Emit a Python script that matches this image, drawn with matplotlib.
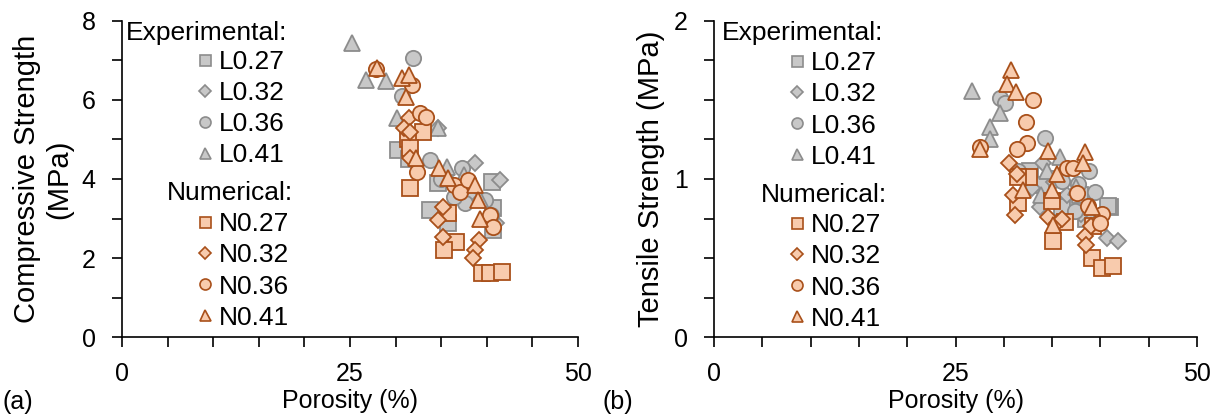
import matplotlib
matplotlib.use('Agg')
import matplotlib.pyplot as plt
from matplotlib.lines import Line2D
from matplotlib.ticker import MultipleLocator

plt.rcParams['font.family'] = ['Liberation Sans', 'DejaVu Sans']

# ---- compressive strength (MPa) vs porosity (%) ----
comp_L027_x = [30.3, 33.8, 34.7, 35.8, 37.5, 40.6, 40.7, 40.7, 31.5]
comp_L027_y = [4.73, 3.22, 3.90, 2.88, 3.60, 3.92, 3.26, 2.70, 4.50]
comp_L032_x = [34.7, 35.5, 38.7, 41.5, 38.0, 41.0, 36.5]
comp_L032_y = [5.30, 4.10, 4.40, 3.97, 3.60, 2.90, 3.80]
comp_L036_x = [31.9, 30.7, 33.8, 37.3, 37.6, 39.8, 36.4, 40.5, 35.0]
comp_L036_y = [7.05, 6.10, 4.47, 4.28, 3.39, 3.47, 3.54, 3.10, 4.00]
comp_L041_x = [25.2, 26.7, 29.0, 30.2, 34.6, 35.6, 37.5, 39.2]
comp_L041_y = [7.43, 6.50, 6.47, 5.55, 5.30, 4.30, 4.10, 3.50]

comp_N027_x = [33.0, 31.4, 31.6, 31.6, 35.8, 36.6, 35.3, 39.5, 40.4, 41.7]
comp_N027_y = [5.18, 5.00, 4.78, 3.76, 3.13, 2.40, 2.20, 1.62, 1.62, 1.65]
comp_N032_x = [31.5, 30.9, 31.6, 31.6, 35.2, 34.7, 35.2, 39.1, 38.7, 38.5]
comp_N032_y = [5.53, 5.30, 5.18, 4.53, 3.30, 2.96, 2.53, 2.45, 2.20, 2.00]
comp_N036_x = [27.8, 31.8, 32.7, 33.3, 32.4, 36.4, 37.1, 37.9, 40.4, 40.7]
comp_N036_y = [6.77, 6.37, 5.67, 5.57, 4.17, 3.85, 3.67, 3.97, 3.09, 2.78]
comp_N041_x = [28.0, 30.7, 31.5, 31.1, 32.2, 34.8, 35.8, 38.7, 39.0, 39.3]
comp_N041_y = [6.80, 6.55, 6.62, 6.07, 4.53, 4.28, 4.02, 3.85, 3.47, 3.00]

# ---- tensile strength (MPa) vs porosity (%) ----
tens_L027_x = [32.7, 34.1, 36.0, 41.0, 37.9, 35.5, 38.5, 40.8]
tens_L027_y = [1.05, 0.96, 0.82, 0.82, 0.90, 1.00, 0.75, 0.83]
tens_L032_x = [33.7, 32.9, 34.1, 40.7, 41.8, 36.5, 38.0, 35.2]
tens_L032_y = [0.82, 0.94, 1.10, 0.63, 0.61, 0.90, 0.78, 0.98]
tens_L036_x = [29.6, 30.1, 34.3, 36.0, 37.7, 39.4, 37.4, 38.8, 31.5]
tens_L036_y = [1.51, 1.48, 1.26, 0.99, 0.97, 0.92, 0.80, 1.05, 1.05]
tens_L041_x = [26.7, 29.6, 28.6, 28.6, 35.8, 34.5, 37.5, 33.8]
tens_L041_y = [1.555, 1.42, 1.33, 1.25, 1.14, 1.05, 0.95, 0.90]

tens_N027_x = [32.6, 31.5, 31.5, 35.0, 36.3, 35.1, 39.2, 39.1, 40.2, 41.3]
tens_N027_y = [1.01, 1.01, 0.85, 0.86, 0.73, 0.61, 0.70, 0.50, 0.44, 0.45]
tens_N032_x = [30.5, 31.4, 31.0, 31.2, 34.6, 35.5, 38.4, 38.5, 36.0, 39.0]
tens_N032_y = [1.10, 1.03, 0.90, 0.77, 0.76, 0.72, 0.64, 0.58, 0.75, 0.70]
tens_N036_x = [33.0, 32.3, 32.4, 31.4, 27.5, 36.5, 37.2, 37.6, 38.7, 40.2, 40.0]
tens_N036_y = [1.50, 1.36, 1.23, 1.19, 1.20, 1.07, 1.07, 0.91, 0.83, 0.78, 0.72]
tens_N041_x = [30.7, 30.3, 31.3, 27.5, 34.6, 38.4, 38.2, 35.5, 32.0, 35.0, 35.1, 39.1]
tens_N041_y = [1.69, 1.60, 1.55, 1.19, 1.18, 1.17, 1.10, 1.03, 0.93, 0.93, 0.71, 0.82]

exp_labels = ['L0.27', 'L0.32', 'L0.36', 'L0.41']
num_labels = ['N0.27', 'N0.32', 'N0.36', 'N0.41']
markers = ['s', 'D', 'o', '^']
msizes = [11, 8, 11, 11]

gray_face, gray_edge = '#c8c8c8', '#8c8c8c'
orng_face, orng_edge = '#f8cbad', '#a9501a'
FS = 18
LFS = 19

comp_exp = [(comp_L027_x, comp_L027_y), (comp_L032_x, comp_L032_y),
            (comp_L036_x, comp_L036_y), (comp_L041_x, comp_L041_y)]
comp_num = [(comp_N027_x, comp_N027_y), (comp_N032_x, comp_N032_y),
            (comp_N036_x, comp_N036_y), (comp_N041_x, comp_N041_y)]
tens_exp = [(tens_L027_x, tens_L027_y), (tens_L032_x, tens_L032_y),
            (tens_L036_x, tens_L036_y), (tens_L041_x, tens_L041_y)]
tens_num = [(tens_N027_x, tens_N027_y), (tens_N032_x, tens_N032_y),
            (tens_N036_x, tens_N036_y), (tens_N041_x, tens_N041_y)]

W, H = 1218, 417
fig = plt.figure(figsize=(W / 100, H / 100), dpi=100)


def fx(px):
    return px / W


def fy(py):
    return 1 - py / H


def draw_panel(ax, exp, num, ymax, ymajor, yminor, ylabel, lay):
    for (x, y), m, ms in zip(exp, markers, msizes):
        ax.plot(x, y, ls='none', marker=m, ms=ms, mfc=gray_face, mec=gray_edge, mew=1.3)
    for (x, y), m, ms in zip(num, markers, msizes):
        ax.plot(x, y, ls='none', marker=m, ms=ms, mfc=orng_face, mec=orng_edge, mew=1.3)

    ax.set_xlim(0, 50)
    ax.set_ylim(0, ymax)
    ax.xaxis.set_major_locator(MultipleLocator(25))
    ax.xaxis.set_minor_locator(MultipleLocator(5))
    ax.yaxis.set_major_locator(MultipleLocator(ymajor))
    ax.yaxis.set_minor_locator(MultipleLocator(yminor))
    ax.tick_params(which='both', direction='out', length=7, width=1.2, color='black')
    ax.tick_params(axis='x', which='major', labelsize=FS, pad=11)
    ax.tick_params(axis='y', which='major', labelsize=FS, pad=12)
    for s in ['top', 'right']:
        ax.spines[s].set_visible(False)
    for s in ['left', 'bottom']:
        ax.spines[s].set_linewidth(1.2)
    ax.set_xlabel('Porosity (%)', fontsize=FS, labelpad=2)
    ax.set_ylabel(ylabel, fontsize=21, labelpad=6)

    fig.text(fx(lay['tag']), fy(402), lay['tagtxt'], fontsize=FS, ha='left', va='center')
    fig.text(fx(lay['exp_x']), fy(lay['exp_y']), 'Experimental:', fontsize=LFS,
             ha='left', va='center')
    fig.text(fx(lay['num_x']), fy(lay['num_y']), 'Numerical:', fontsize=LFS,
             ha='left', va='center')

    h_exp = [Line2D([], [], ls='none', marker=m, ms=ms * 0.72, mfc=gray_face,
                    mec=gray_edge, mew=1.2) for m, ms in zip(markers, msizes)]
    h_num = [Line2D([], [], ls='none', marker=m, ms=ms * 0.72, mfc=orng_face,
                    mec=orng_edge, mew=1.2) for m, ms in zip(markers, msizes)]
    kw = dict(loc='center left', frameon=False, fontsize=LFS,
              handlelength=0.7, handletextpad=0.15, labelspacing=0.27,
              borderpad=0, borderaxespad=0, bbox_transform=fig.transFigure)
    leg1 = ax.legend(handles=h_exp, labels=exp_labels,
                     bbox_to_anchor=(fx(lay['ent_x']), fy(lay['exp_c'])), **kw)
    ax.add_artist(leg1)
    ax.legend(handles=h_num, labels=num_labels,
              bbox_to_anchor=(fx(lay['ent_x']), fy(lay['num_c'])), **kw)


ax1 = fig.add_axes([fx(122), fy(337.3), fx(456), 316.6 / H])
ax2 = fig.add_axes([fx(714), fy(337.3), fx(483), 316.6 / H])

lay1 = dict(tag=2, tagtxt='(a)', exp_x=126, exp_y=33, num_x=167, num_y=193,
            ent_x=196, exp_c=108.5, num_c=271)
lay2 = dict(tag=603, tagtxt='(b)', exp_x=722, exp_y=33, num_x=761, num_y=195,
            ent_x=788, exp_c=110, num_c=272)

draw_panel(ax1, comp_exp, comp_num, 8, 2, 1, 'Compressive Strength\n(MPa)', lay1)
draw_panel(ax2, tens_exp, tens_num, 2, 1, 0.25, 'Tensile Strength (MPa)', lay2)

fig.savefig('out.png', dpi=100)
